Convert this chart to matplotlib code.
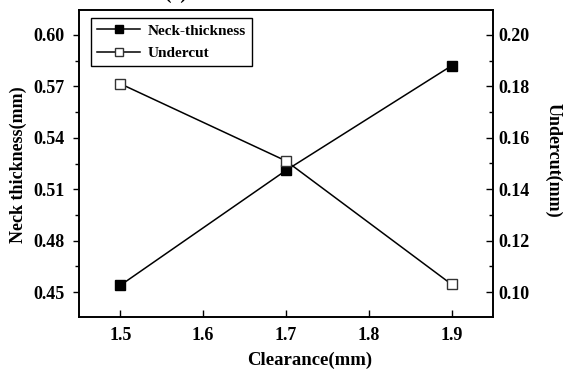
import matplotlib
matplotlib.use("Agg")
import matplotlib.pyplot as plt
from matplotlib.ticker import MultipleLocator, FormatStrFormatter

plt.rcParams['font.family'] = ['Liberation Serif', 'DejaVu Serif']
plt.rcParams['font.weight'] = 'bold'

clearance = [1.5, 1.7, 1.9]
neck_thickness = [0.454, 0.521, 0.582]
undercut = [0.181, 0.151, 0.103]
x_ticks = [1.5, 1.6, 1.7, 1.8, 1.9]

W, H = 563, 370
fig = plt.figure(figsize=(W / 100, H / 100), dpi=100)
ax = fig.add_axes([79 / W, (H - 317) / H, (493 - 79) / W, (317 - 10) / H])
ax2 = ax.twinx()

l1, = ax.plot(clearance, neck_thickness, color='black', lw=1.1, marker='s',
              markersize=7, markerfacecolor='black', markeredgecolor='black',
              label='Neck-thickness', zorder=3)
l2, = ax2.plot(clearance, undercut, color='black', lw=1.1, marker='s',
               markersize=6.5, markerfacecolor='white', markeredgecolor='#333333',
               markeredgewidth=1.0, label='Undercut', zorder=3)

ax.set_xlim(1.45, 1.95)
ax.set_ylim(0.4355, 0.6145)
ax2.set_ylim(0.0903, 0.2097)

ax.set_xticks(x_ticks)
ax.xaxis.set_major_formatter(FormatStrFormatter('%.1f'))
ax.yaxis.set_major_locator(MultipleLocator(0.03))
ax.yaxis.set_minor_locator(MultipleLocator(0.015))
ax.yaxis.set_major_formatter(FormatStrFormatter('%.2f'))
ax2.yaxis.set_major_locator(MultipleLocator(0.02))
ax2.yaxis.set_minor_locator(MultipleLocator(0.01))
ax2.yaxis.set_major_formatter(FormatStrFormatter('%.2f'))

ax.tick_params(axis='x', direction='in', length=5, width=1, labelsize=13, pad=7, top=False)
ax.tick_params(axis='y', which='major', direction='out', length=4.5, width=1, labelsize=13, pad=6)
ax.tick_params(axis='y', which='minor', direction='out', length=3, width=1)
ax2.tick_params(axis='y', which='major', direction='in', length=5, width=1, labelsize=13, pad=4)
ax2.tick_params(axis='y', which='minor', direction='in', length=3, width=1)

for a in (ax, ax2):
    for s in a.spines.values():
        s.set_linewidth(1.2)

AX_W, AX_H = 493 - 79, 317 - 10

ax.set_xlabel('Clearance(mm)', fontsize=13.5, fontweight='bold')
ax.xaxis.set_label_coords((310 - 79) / AX_W, -(352 - 317) / AX_H)
ax.set_ylabel('Neck thickness(mm)', fontsize=13, fontweight='bold')
ax.yaxis.set_label_coords(-(79 - 27) / AX_W, 0.5 + (163.5 - 165) / AX_H)
ax2.set_ylabel('Undercut(mm)', fontsize=13, fontweight='bold', rotation=270,
               va='center')
ax2.yaxis.set_label_coords(1 + (553 - 493) / AX_W, 0.5 + (163.5 - 160) / AX_H)

leg = ax.legend([l1, l2], ['Neck-thickness', 'Undercut'], loc='upper left',
                bbox_to_anchor=(12 / AX_W, 1 - 8 / AX_H), borderaxespad=0,
                prop={'weight': 'bold', 'size': 11}, fancybox=False,
                edgecolor='black', framealpha=1, handlelength=2.8,
                handletextpad=0.5, borderpad=0.4, labelspacing=0.55,
                markerscale=0.85)
leg.get_frame().set_linewidth(1.0)

fig.text(0.311, 1.003, '(a)', ha='center', va='baseline', fontsize=14, fontweight='bold')

fig.savefig('out.png', dpi=100)
